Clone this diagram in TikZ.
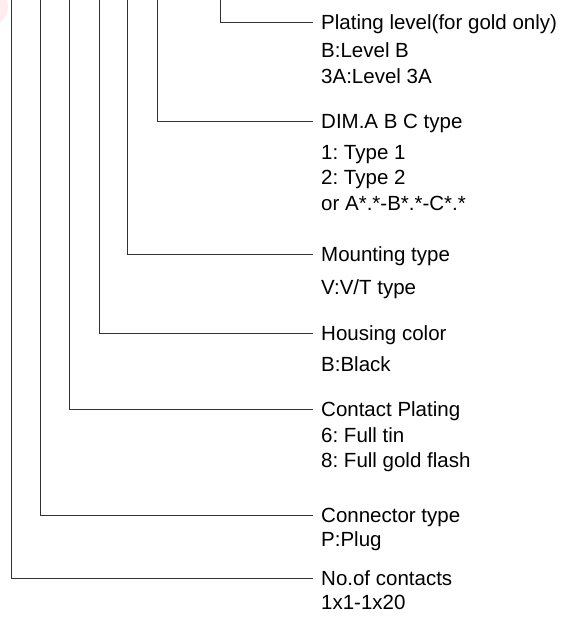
\documentclass[tikz,border=0pt]{standalone}
\usepackage{fontspec}
\setmainfont{Liberation Sans}
\usetikzlibrary{positioning}
\frenchspacing

\tikzset{
  lead/.style={draw=black!80, line width=1pt},
  title/.style={anchor=west, inner xsep=8pt, inner ysep=0pt, text height=15.6pt, text depth=1pt, font=\fontsize{20.5}{24}\selectfont},
  option/.style={anchor=base west, inner sep=0pt, font=\fontsize{20.5}{24}\selectfont}
}

\begin{document}
\begin{tikzpicture}[x=1pt, y=-1pt]
        % Marco de la figura
        \useasboundingbox (0,0) rectangle (574,619);

        % Marca de agua en la esquina
        \begin{scope}
          \clip (0,0) rectangle (574,619);
          \fill[red!7] (-14,6) circle (22pt);
        \end{scope}

        % Columna de textos
        \def\tx{313}
        \def\ox{321}

        % Extremos superiores de las guias
        \coordinate (top1) at (11,0);
        \coordinate (top2) at (40,0);
        \coordinate (top3) at (69,0);
        \coordinate (top4) at (99,0);
        \coordinate (top5) at (127,0);
        \coordinate (top6) at (157,0);
        \coordinate (top7) at (220,0);

        % Nivel de dorado
        \node[title] (plating) at (\tx,22) {Plating level(for gold only)};
        \node[option] (plating1) at (\ox,57) {B:Level B};
        \node[option] (plating2) at (\ox,83) {3A:Level 3A};
        \draw[lead] (top7) |- (plating.west);

        % Dimensiones A B C
        \node[title] (dim) at (\tx,121) {DIM.A B C type};
        \node[option] (dim1) at (\ox,159) {1: Type 1};
        \node[option] (dim2) at (\ox,184) {2: Type 2};
        \node[option] (dim3) at (\ox,210) {or A*.*-B*.*-C*.*};
        \draw[lead] (top6) |- (dim.west);

        % Montaje
        \node[title] (mount) at (\tx,254) {Mounting type};
        \node[option] (mount1) at (\ox,294) {V:V/T type};
        \draw[lead] (top5) |- (mount.west);

        % Color de la carcasa
        \node[title] (housing) at (\tx,333) {Housing color};
        \node[option] (housing1) at (\ox,371) {B:Black};
        \draw[lead] (top4) |- (housing.west);

        % Acabado de contactos
        \node[title] (contact) at (\tx,409) {Contact Plating};
        \node[option] (contact1) at (\ox,442) {6: Full tin};
        \node[option] (contact2) at (\ox,467) {8: Full gold flash};
        \draw[lead] (top3) |- (contact.west);

        % Tipo de conector
        \node[title] (conn) at (\tx,515) {Connector type};
        \node[option] (conn1) at (\ox,546) {P:Plug};
        \draw[lead] (top2) |- (conn.west);

        % Numero de contactos
        \node[title] (pins) at (\tx,578) {No.of contacts};
        \node[option] (pins1) at (\ox,609) {1x1-1x20};
        \draw[lead] (top1) |- (pins.west);

    \end{tikzpicture}
\end{document}
